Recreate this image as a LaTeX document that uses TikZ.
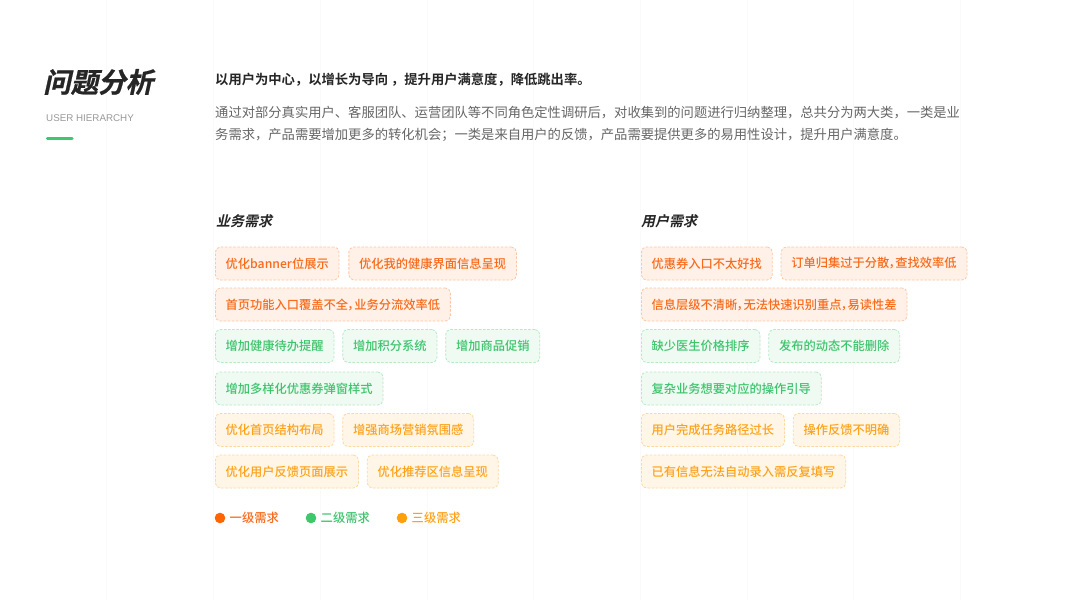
\documentclass[tikz,border=0pt]{standalone}
\usepackage{fontspec}
\usepackage{xcolor}
\usetikzlibrary{positioning}
\setmainfont{Noto Sans CJK SC}[BoldFont={Noto Sans CJK SC Bold}]
\newfontfamily\slantbold{Noto Sans CJK SC Bold}[FakeSlant=0.22]
\newfontfamily\titlefont{Noto Sans CJK SC Bold}[FakeSlant=0.22, FakeBold=0.8]
\newfontfamily\midfont{Noto Sans CJK SC Medium}[RawFeature=+palt]
\newfontfamily\latinsans{Liberation Sans}

\definecolor{ink}{HTML}{262626}
\definecolor{bodygray}{HTML}{666666}
\definecolor{subgray}{HTML}{9A9A9A}
\definecolor{gridgray}{HTML}{FAFAFA}
\definecolor{barGreen}{HTML}{3DC96B}
\definecolor{lvAtext}{HTML}{F96A1A}
\definecolor{lvAfill}{HTML}{FFF1E8}
\definecolor{lvAdraw}{HTML}{FFC6A4}
\definecolor{lvBtext}{HTML}{3EC46D}
\definecolor{lvBfill}{HTML}{EEFAF2}
\definecolor{lvBdraw}{HTML}{B6EAC7}
\definecolor{lvCtext}{HTML}{FFA21A}
\definecolor{lvCfill}{HTML}{FFF6E7}
\definecolor{lvCdraw}{HTML}{FFD89E}
\definecolor{dotA}{HTML}{FF6600}
\definecolor{dotB}{HTML}{3DC86B}
\definecolor{dotC}{HTML}{FFA00A}

\tikzset{
  tag/.style={rounded corners=5pt, dash pattern=on 2.5pt off 1.6pt, line width=0.8pt,
    minimum height=33pt, inner xsep=10.3pt, inner ysep=0pt,
    font=\midfont\fontsize{12.25}{14}\selectfont, anchor=west},
  lvA/.style={tag, draw=lvAdraw, fill=lvAfill, text=lvAtext},
  lvB/.style={tag, draw=lvBdraw, fill=lvBfill, text=lvBtext},
  lvC/.style={tag, draw=lvCdraw, fill=lvCfill, text=lvCtext},
  legendtext/.style={anchor=west, inner sep=0pt, font=\midfont\fontsize{12.3}{14}\selectfont},
  heading/.style={anchor=west, inner sep=0pt, text=ink, font=\slantbold\fontsize{14}{16}\selectfont},
  bodyline/.style={anchor=west, inner sep=0pt, text=bodygray, font=\fontsize{13.3}{16}\selectfont}
}

\begin{document}
\begin{tikzpicture}[x=1pt, y=-1pt, node distance=8pt]
  \useasboundingbox (0,0) rectangle (1067,600);
  \fill[white] (0,0) rectangle (1067,600);

  % faint column grid
  \foreach \i in {1,...,9}
    \draw[gridgray, line width=0.6pt] ({106.7*\i},0) -- ({106.7*\i},600);

  % Title block
  \node[anchor=west, inner sep=0pt, text=ink, font=\titlefont\fontsize{27.5}{30}\selectfont] (title) at (43,82) {问题分析};
  \node[anchor=west, inner sep=0pt, text=subgray, font=\latinsans\fontsize{9.8}{12}\selectfont] (subtitle) at (46,118) {USER HIERARCHY};
  \coordinate (barL) at (47.5,138.5);
  \coordinate (barR) at (72,138.5);
  \draw[barGreen, line width=3.2pt, line cap=round] (barL) -- (barR);

  % Intro text
  \node[anchor=west, inner sep=0pt, text=ink, font=\bfseries\fontsize{13.3}{16}\selectfont] (lead) at (215,80) {以用户为中心，以增长为导向 ，提升用户满意度，降低跳出率。};
  \node[bodyline] (body1) at (215,113) {通过对部分真实用户、客服团队、运营团队等不同角色定性调研后，对收集到的问题进行归纳整理，总共分为两大类，一类是业};
  \node[bodyline] (body2) at (215,135) {务需求，产品需要增加更多的转化机会；一类是来自用户的反馈，产品需要提供更多的易用性设计，提升用户满意度。};

  % Column headings
  \node[heading] (bizHead) at (216,221) {业务需求};
  \node[heading] (userHead) at (641,221) {用户需求};

  % Business needs - level 1
  \node[lvA] (b11) at (215,263.5) {优化banner位展示};
  \node[lvA] (b12) [right=9pt of b11] {优化我的健康界面信息呈现};
  \node[lvA] (b13) at (215,304.5) {首页功能入口覆盖不全，业务分流效率低};

  % Business needs - level 2
  \node[lvB] (b21) at (215,346) {增加健康待办提醒};
  \node[lvB] (b22) [right=of b21] {增加积分系统};
  \node[lvB] (b23) [right=of b22] {增加商品促销};
  \node[lvB] (b24) at (215,388.5) {增加多样化优惠券弹窗样式};

  % Business needs - level 3
  \node[lvC] (b31) at (215,430) {优化首页结构布局};
  \node[lvC] (b32) [right=of b31] {增强商场营销氛围感};
  \node[lvC] (b33) at (215,471.5) {优化用户反馈页面展示};
  \node[lvC] (b34) [right=of b33] {优化推荐区信息呈现};

  % User needs - level 1
  \node[lvA] (u11) at (641,263.5) {优惠券入口不太好找};
  \node[lvA] (u12) [right=of u11] {订单归集过于分散，查找效率低};
  \node[lvA] (u13) at (641,304.5) {信息层级不清晰，无法快速识别重点，易读性差};

  % User needs - level 2
  \node[lvB] (u21) at (641,346) {缺少医生价格排序};
  \node[lvB] (u22) [right=of u21] {发布的动态不能删除};
  \node[lvB] (u23) at (641,388.5) {复杂业务想要对应的操作引导};

  % User needs - level 3
  \node[lvC] (u31) at (641,430) {用户完成任务路径过长};
  \node[lvC] (u32) [right=of u31] {操作反馈不明确};
  \node[lvC] (u33) at (641,471.5) {已有信息无法自动录入需反复填写};

  % Legend
  \fill[dotA] (220,518) circle (5.3pt);
  \node[legendtext, text=lvAtext] (legA) at (229.5,518) {一级需求};
  \fill[dotB] (311,518) circle (5.3pt);
  \node[legendtext, text=lvBtext] (legB) at (320.5,518) {二级需求};
  \fill[dotC] (402,518) circle (5.3pt);
  \node[legendtext, text=lvCtext] (legC) at (411.5,518) {三级需求};
\end{tikzpicture}
\end{document}
